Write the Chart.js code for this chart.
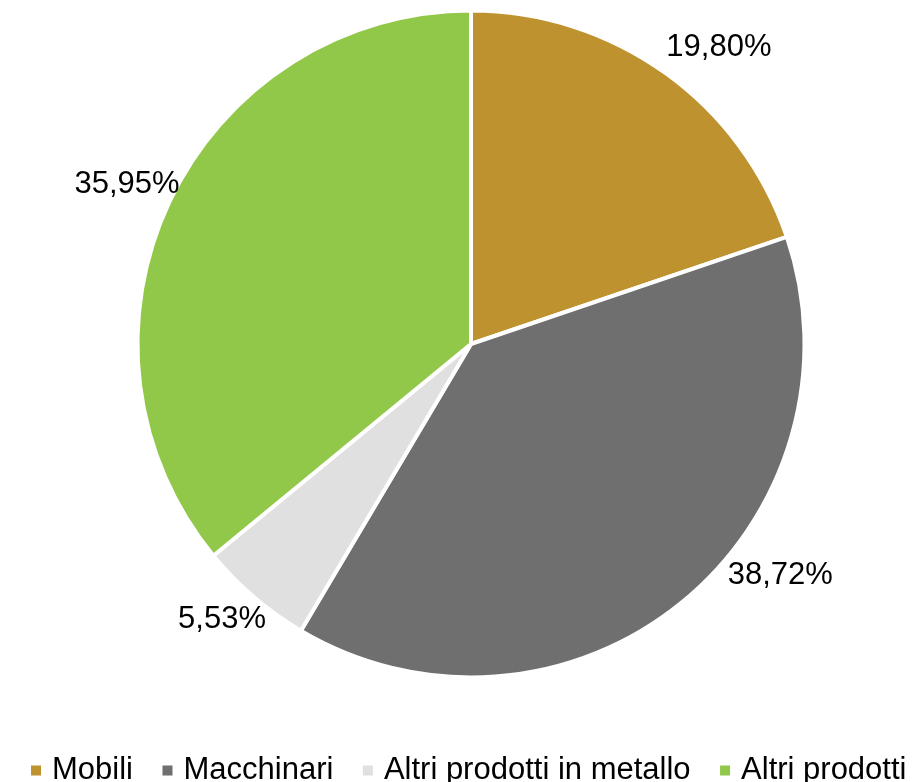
<!DOCTYPE html>
<html>
<head>
<meta charset="utf-8">
<script src="https://cdn.jsdelivr.net/npm/chart.js@4/dist/chart.umd.min.js"></script>
<style>
  html, body { margin: 0; padding: 0; background: #ffffff; overflow: hidden; width: 912px; height: 782px; }
  #wrap { position: relative; width: 912px; height: 782px; overflow: hidden; }
  #c { position: absolute; left: -19px; top: 0; }
</style>
</head>
<body>
<div id="wrap"><canvas id="c" width="980" height="796"></canvas></div>
<script>
const categories = ['Mobili', 'Macchinari', 'Altri prodotti in metallo', 'Altri prodotti'];
const shares = [19.80, 38.72, 5.53, 35.95];
const sliceColors = ['#BF9230', '#6F6F6F', '#E0E0E0', '#92C84A'];

const FONT = "'Liberation Sans', Arial, Helvetica, sans-serif";

// label placement relative to each arc: angle shift (deg) and distance as ratio of the radius
const labelPlacement = {
  angleShift: [4.3, -14.2, 1.5, -0.4],
  distance: [1.158, 1.158, 1.113, 1.137]
};

const outsideLabels = {
  id: 'outsideLabels',
  afterDatasetsDraw(chart, args, opts) {
    const ctx = chart.ctx;
    const meta = chart.getDatasetMeta(0);
    ctx.save();
    ctx.font = '31px ' + FONT;
    ctx.fillStyle = '#000000';
    ctx.textAlign = 'center';
    ctx.textBaseline = 'middle';
    meta.data.forEach((arc, i) => {
      const p = arc.getProps(['x', 'y', 'startAngle', 'endAngle', 'outerRadius'], true);
      const mid = (p.startAngle + p.endAngle) / 2 + opts.angleShift[i] * Math.PI / 180;
      const r = p.outerRadius * opts.distance[i];
      const txt = shares[i].toFixed(2).replace('.', ',') + '%';
      ctx.fillText(txt, p.x + Math.cos(mid) * r, p.y + Math.sin(mid) * r);
    });
    ctx.restore();
  }
};

new Chart(document.getElementById('c'), {
  type: 'pie',
  data: {
    labels: categories,
    datasets: [{
      data: shares,
      backgroundColor: sliceColors,
      borderColor: '#ffffff',
      borderWidth: 4,
      hoverBorderWidth: 4,
      hoverOffset: 0
    }]
  },
  options: {
    responsive: false,
    animation: false,
    events: [],
    layout: { padding: { top: 8.5, left: 0, right: 0, bottom: 0 } },
    plugins: {
      tooltip: { enabled: false },
      outsideLabels: labelPlacement,
      legend: {
        display: true,
        position: 'bottom',
        title: { display: true, text: '', font: { size: 1, lineHeight: 1 }, padding: { top: 40.5, bottom: 0 } },
        labels: {
          usePointStyle: true,
          pointStyle: 'rect',
          boxWidth: 1,
          boxHeight: 10,
          padding: 34,
          color: '#000000',
          font: { family: FONT, size: 31 },
          generateLabels(chart) {
            const items = Chart.overrides.pie.plugins.legend.labels.generateLabels(chart);
            return items.map(it => Object.assign(it, { lineWidth: 0, strokeStyle: it.fillStyle, pointStyle: 'rect' }));
          }
        }
      }
    }
  },
  plugins: [outsideLabels]
});
</script>
</body>
</html>
